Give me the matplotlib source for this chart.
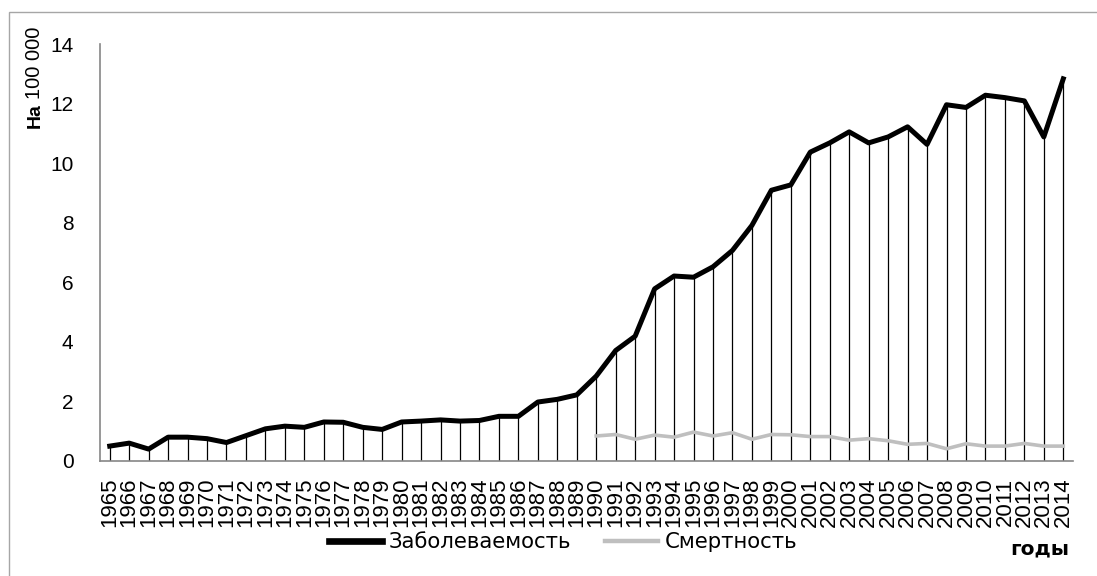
import numpy as np
import matplotlib
matplotlib.use('Agg')
import matplotlib.pyplot as plt
from matplotlib.lines import Line2D
from matplotlib.patches import Rectangle

# Data
years = list(range(1965, 2015))
incidence = [0.50, 0.60, 0.40, 0.80, 0.80, 0.75, 0.62, 0.85, 1.08, 1.17,
             1.13, 1.31, 1.30, 1.13, 1.06, 1.31, 1.34, 1.38, 1.34, 1.36,
             1.50, 1.50, 1.98, 2.07, 2.22, 2.85, 3.71, 4.19, 5.78, 6.21,
             6.17, 6.52, 7.07, 7.91, 9.09, 9.27, 10.37, 10.68, 11.05, 10.68,
             10.88, 11.22, 10.63, 11.96, 11.87, 12.28, 12.20, 12.09, 10.88, 12.83]
mortality_years = list(range(1990, 2015))
mortality = [0.84, 0.89, 0.73, 0.87, 0.80, 0.97, 0.84, 0.95, 0.73, 0.89,
             0.88, 0.82, 0.82, 0.70, 0.75, 0.68, 0.56, 0.59, 0.41, 0.58,
             0.50, 0.50, 0.59, 0.50, 0.50]
y_ticks = [0, 2, 4, 6, 8, 10, 12, 14]

W, H = 1097, 576
fig = plt.figure(figsize=(W / 100, H / 100), dpi=100)

# outer chart frame (runs off the right/bottom edges like the source)
fig.patches.append(Rectangle((9 / W, -0.1), 1.2, 1.1 - 12 / H, transform=fig.transFigure,
                             fill=False, edgecolor='#a6a6a6', linewidth=1.0))

ax = fig.add_axes([100 / W, 1 - 461 / H, 973 / W, 417 / H])

x_inc = np.arange(len(years)) + 0.5
x_mort = np.array([years.index(y) for y in mortality_years]) + 0.5

# drop lines
ax.vlines(x_inc, 0, incidence, colors='black', linewidth=0.9, zorder=1)
ax.plot(x_inc, incidence, color='black', linewidth=3.6, zorder=3)
ax.plot(x_mort, mortality, color='#bfbfbf', linewidth=2.6, zorder=2)

ax.set_xlim(0, len(years))
ax.set_ylim(0, 14)
ax.set_yticks(y_ticks)
ax.set_yticklabels([str(v) for v in y_ticks], fontsize=15, family='Liberation Sans')
ax.set_xticks(x_inc)
ax.set_xticklabels([str(y) for y in years], rotation=90, fontsize=16,
                   family='Liberation Sans', va='top', ha='center')
ax.tick_params(axis='both', length=0)
ax.tick_params(axis='x', pad=12)
ax.tick_params(axis='y', pad=19)

for side in ['top', 'right']:
    ax.spines[side].set_visible(False)
for side in ['left', 'bottom']:
    ax.spines[side].set_color('#868686')
    ax.spines[side].set_linewidth(1.2)

# y axis title: bold "На" + regular "100 000"
t1 = fig.text(35 / W, 1 - 128 / H, 'На', rotation=90, fontsize=14, fontweight='bold',
              family='Liberation Sans', ha='center', va='bottom')
ax.annotate('100 000', xy=(0.5, 1.0), xycoords=t1, xytext=(0, 3), textcoords='offset points',
            rotation=90, fontsize=14.5, family='Liberation Sans', ha='center', va='bottom',
            annotation_clip=False)

# x axis title
fig.text(1040 / W, 1 - 549 / H, 'годы', fontsize=14.5, fontweight='bold', ha='center', va='center')

# legend
handles = [Line2D([], [], color='black', linewidth=4.8),
           Line2D([], [], color='#bfbfbf', linewidth=3.2)]
fig.legend(handles, ['Заболеваемость', 'Смертность'], loc='center left',
           bbox_to_anchor=(329 / W, 1 - 542 / H), ncol=2, frameon=False,
           fontsize=15.3, handlelength=2.5, handletextpad=0.3, columnspacing=1.6,
           borderpad=0, borderaxespad=0)

fig.savefig('out.png', dpi=100)
